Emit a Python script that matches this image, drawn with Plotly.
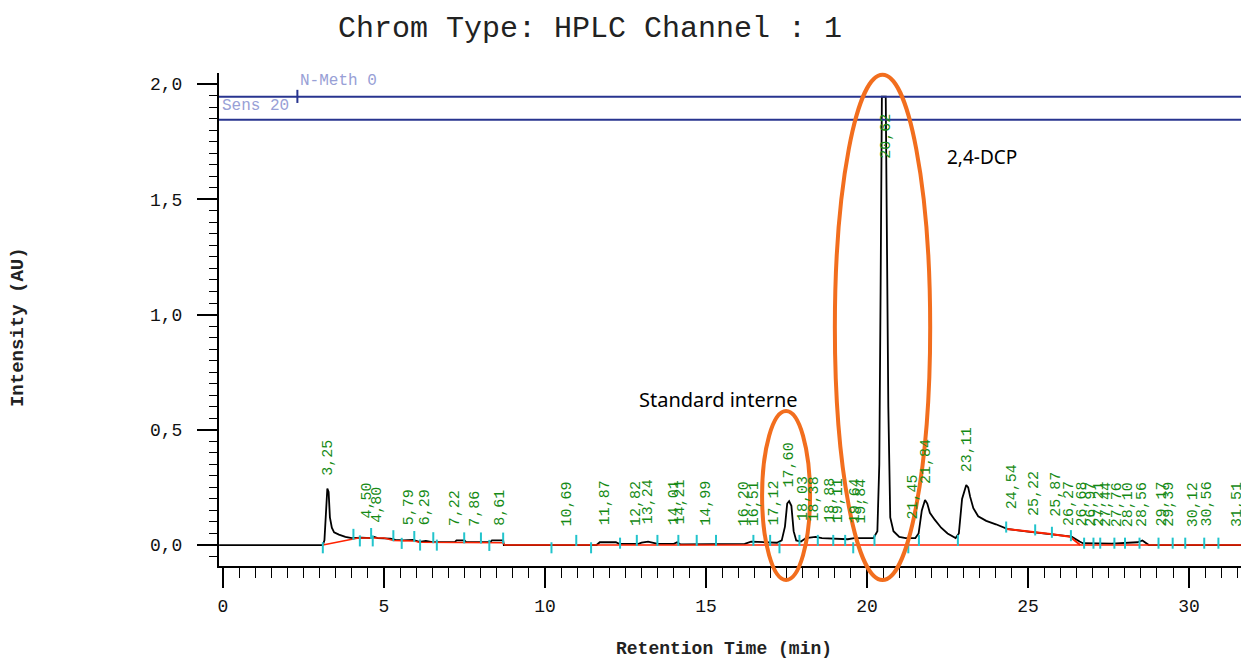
import plotly.graph_objects as go
import numpy as np

# ---- data ----
# detector signal (retention time in min, intensity in AU)
sig_t = [-0.12, 3.10, 3.15, 3.20, 3.24, 3.28, 3.32, 3.38, 3.45, 3.60, 3.80, 4.00, 4.30, 4.60, 4.70,
         4.80, 5.20, 5.35, 5.60, 5.90, 6.10, 6.30, 6.50, 7.20, 7.25, 7.50, 7.55, 8.30, 8.35, 8.70,
         8.72, 11.60, 11.70, 12.20, 12.30, 12.90, 13.00, 13.20, 13.40, 13.50, 14.00, 14.10, 14.20,
         15.30, 15.40, 16.20, 16.40, 16.90, 17.20, 17.35, 17.45, 17.52, 17.58, 17.65, 17.72, 17.80,
         17.95, 18.10, 18.40, 18.60, 19.00, 19.40, 19.60, 20.20, 20.32, 20.38, 20.42, 20.46, 20.58,
         20.62, 20.66, 20.72, 20.82, 21.00, 21.20, 21.50, 21.60, 21.70, 21.80, 21.87, 21.95, 22.10,
         22.30, 22.50, 22.75, 22.85, 22.95, 23.08, 23.14, 23.20, 23.30, 23.45, 23.70, 24.00, 24.30,
         24.35, 25.00, 25.50, 26.00, 26.35, 26.60, 26.70, 27.60, 28.00, 28.40, 28.55, 28.65, 28.75,
         31.90]
sig_y = [0.0, 0.0, 0.02, 0.18, 0.245, 0.23, 0.12, 0.075, 0.055, 0.045, 0.035, 0.03, 0.032, 0.03, 0.035,
         0.03, 0.028, 0.022, 0.02, 0.022, 0.014, 0.018, 0.013, 0.013, 0.02, 0.02, 0.013, 0.013, 0.02, 0.02,
         0.0, 0.0, 0.012, 0.012, 0.005, 0.005, 0.01, 0.015, 0.01, 0.005, 0.005, 0.012, 0.003,
         0.003, 0.005, 0.005, 0.015, 0.012, 0.01, 0.02, 0.08, 0.18, 0.19, 0.17, 0.06, 0.02,
         0.015, 0.03, 0.035, 0.03, 0.028, 0.025, 0.03, 0.03, 0.06, 0.35, 1.10, 1.945, 1.945,
         1.25, 0.60, 0.12, 0.06, 0.035, 0.03, 0.03, 0.05, 0.15, 0.195, 0.18, 0.14, 0.11,
         0.075, 0.05, 0.03, 0.05, 0.20, 0.26, 0.25, 0.21, 0.16, 0.125, 0.105, 0.09, 0.072,
         0.07, 0.058, 0.05, 0.042, 0.036, 0.015, 0.008, 0.006, 0.01, 0.012, 0.02, 0.01, 0.0,
         0.0]

# integration baseline (main) and the separate baseline under the tail after 24 min
base_t = [3.10, 3.50, 4.00, 4.20, 5.00, 5.30, 5.90, 6.10, 8.70, 8.75, 31.90]
base_y = [0.0, 0.01, 0.025, 0.03, 0.03, 0.02, 0.018, 0.012, 0.01, 0.0, 0.0]
tail_base_t = [24.32, 25.20, 25.70, 26.30, 26.62]
tail_base_y = [0.07, 0.058, 0.048, 0.036, 0.0]

# peak start / end marks (time, side: 1 above, 0 across, -1 below the baseline)
mark_t = [3.10, 4.05, 4.25, 4.60, 4.65, 5.29, 5.55, 5.94, 6.12, 6.53, 6.64, 7.49, 8.01, 8.27, 8.70,
          10.20, 10.97, 11.43, 12.33, 12.85, 13.49, 14.14, 14.71, 15.31, 16.47, 16.99, 17.28, 17.90,
          18.47, 18.95, 19.32, 19.57, 20.23, 21.28, 21.61, 22.82, 24.32, 25.22, 25.74, 26.33, 26.74,
          27.03, 27.24, 27.68, 28.01, 28.46, 29.05, 29.49, 29.88, 30.47, 30.91, 31.80]
mark_dir = [-1, 1, -1, 1, -1, 1, -1, 1, -1, 1, -1, 1, 1, -1, 1,
            -1, 1, -1, 0, 1, 1, 1, 1, 1, 1, 1, -1, 1,
            1, 1, 1, -1, 1, -1, 1, 1, 0, 0, 0, 0, 0,
            0, 0, 0, 0, 0, 0, 0, 0, 0, 0, 0]

# retention time labels and the intensity where each label starts
peak_labels = ["3,25", "4,50", "4,80", "5,79", "6,29", "7,22", "7,86", "8,61", "10,69", "11,87",
               "12,82", "13,24", "14,01", "14,21", "14,99", "16,20", "16,51", "17,12", "17,60",
               "18,03", "18,38", "18,88", "19,11", "19,64", "19,84", "20,62", "21,45", "21,84",
               "23,11", "24,54", "25,22", "25,87", "26,27", "26,68", "26,97", "27,21", "27,44",
               "27,76", "28,10", "28,56", "29,17", "29,39", "30,12", "30,56", "31,51"]
label_base = [0.295, 0.11, 0.09, 0.083, 0.08, 0.075, 0.075, 0.08, 0.075, 0.08,
              0.08, 0.085, 0.08, 0.085, 0.08, 0.078, 0.078, 0.08, 0.247,
              0.10, 0.10, 0.09, 0.09, 0.09, 0.09, 1.67, 0.108, 0.26,
              0.31, 0.15, 0.12, 0.117, 0.08, 0.075, 0.075, 0.075, 0.075,
              0.075, 0.075, 0.075, 0.075, 0.075, 0.075, 0.075, 0.075]

x_ticks = [0, 5, 10, 15, 20, 25, 30]
y_ticks = [0.0, 0.5, 1.0, 1.5, 2.0]
ref_lines = [1.945, 1.845]   # instrument marker lines

XR = [-0.124, 31.86]
YR = [-0.091, 2.048]

MONO = "Liberation Mono"

fig = go.Figure()

# signal
fig.add_trace(go.Scatter(x=sig_t, y=sig_y, mode="lines", line=dict(color="black", width=1.8),
                         hoverinfo="skip", showlegend=False))
# baselines
fig.add_trace(go.Scatter(x=base_t, y=base_y, mode="lines", line=dict(color="#ff2200", width=1.5),
                         hoverinfo="skip", showlegend=False))
fig.add_trace(go.Scatter(x=tail_base_t, y=tail_base_y, mode="lines",
                         line=dict(color="#ff2200", width=2), hoverinfo="skip", showlegend=False))

# peak marks as short vertical segments
bl = np.interp(mark_t, base_t, base_y)
tl = np.interp(mark_t, tail_base_t, tail_base_y, left=0.0, right=0.0)
bl = np.maximum(bl, tl)
cen = {1: 0.02, 0: 0.008, -1: -0.012}
mx, my = [], []
for t, b, d in zip(mark_t, bl, mark_dir):
    c = b + cen[d]
    mx += [t, t, None]
    my += [c - 0.024, c + 0.024, None]
fig.add_trace(go.Scatter(x=mx, y=my, mode="lines", line=dict(color="#22c4cc", width=2),
                         hoverinfo="skip", showlegend=False))

# retention time labels
for lab, yb in zip(peak_labels, label_base):
    fig.add_annotation(x=float(lab.replace(",", ".")), y=yb, xref="x", yref="y", text=lab,
                       showarrow=False, textangle=-90, xanchor="center", yanchor="bottom",
                       borderpad=0, font=dict(family=MONO, size=15, color="#158a15"))

# reference lines
for v in ref_lines:
    fig.add_shape(type="line", xref="paper", x0=0, x1=1, yref="y", y0=v, y1=v,
                  line=dict(color="#28348f", width=2))
fig.add_shape(type="line", xref="x", x0=2.31, x1=2.31, yref="y", y0=1.918, y1=1.975,
              line=dict(color="#28348f", width=2))
fig.add_annotation(x=2.33, y=2.012, xref="x", yref="y", text="N-Meth 0", showarrow=False,
                   xanchor="left", yanchor="middle", font=dict(family=MONO, size=16, color="#98a0d6"))
fig.add_annotation(x=-0.1, y=1.906, xref="x", yref="y", text="Sens 20", showarrow=False,
                   xanchor="left", yanchor="middle", font=dict(family=MONO, size=16, color="#98a0d6"))


def px(t):
    return (t - XR[0]) / (XR[1] - XR[0])


def py(v):
    return (v - YR[0]) / (YR[1] - YR[0])


# highlight ellipses
for (x0, x1, y0, y1) in [(16.74, 18.23, -0.152, 0.581), (19.0, 21.96, -0.152, 2.04)]:
    fig.add_shape(type="circle", xref="paper", yref="paper", x0=px(x0), x1=px(x1),
                  y0=py(y0), y1=py(y1), line=dict(color="#f26e1e", width=4))

fig.add_annotation(x=15.4, y=0.633, xref="x", yref="y", text="Standard interne", showarrow=False,
                   font=dict(family="Noto Sans", size=20, color="black"))
fig.add_annotation(x=23.57, y=1.683, xref="x", yref="y", text="2,4-DCP", showarrow=False,
                   font=dict(family="Noto Sans", size=19, color="black"))

# axis titles
fig.add_annotation(x=-0.195, y=0.485, xref="paper", yref="paper", text="<b>Intensity (AU)</b>",
                   showarrow=False, textangle=-90, xanchor="center", yanchor="middle",
                   font=dict(family=MONO, size=19, color="#222"))
fig.add_annotation(x=0.49, y=-0.168, xref="paper", yref="paper", text="<b>Retention Time (min)</b>",
                   showarrow=False, xanchor="center", yanchor="middle",
                   font=dict(family=MONO, size=18, color="#222"))

# the page adds an 8 px body margin, so the figure is sized to fit the 1249x661 window
fig.update_layout(
    width=1241, height=653,
    margin=dict(l=211, r=0, t=65, b=95),
    plot_bgcolor="white", paper_bgcolor="white",
    separators=",.",
    title=dict(text="Chrom Type: HPLC Channel : 1", xref="container", x=0.469, y=0.972,
               xanchor="center", yanchor="middle",
               font=dict(family=MONO, size=30, color="#222")),
    xaxis=dict(range=XR, showgrid=False, zeroline=False, showline=True, linecolor="black",
               linewidth=2, ticks="outside", ticklen=20, tickwidth=1.5, tickcolor="black",
               tickvals=x_ticks, ticktext=[str(v) for v in x_ticks], ticklabelstandoff=2,
               tickfont=dict(family=MONO, size=18, color="#111"),
               minor=dict(dtick=0.5, tick0=0, ticks="outside", ticklen=10, tickwidth=1.2,
                          tickcolor="black")),
    yaxis=dict(range=YR, showgrid=False, zeroline=False, showline=True, linecolor="black",
               linewidth=2, ticks="outside", ticklen=20, tickwidth=1.5, tickcolor="black",
               tickvals=y_ticks, tickformat=".1f", ticklabelstandoff=11,
               tickfont=dict(family=MONO, size=18, color="#111"),
               minor=dict(dtick=0.05, tick0=0, ticks="outside", ticklen=8, tickwidth=1.2,
                          tickcolor="black")),
)

fig.write_html("out.html")
